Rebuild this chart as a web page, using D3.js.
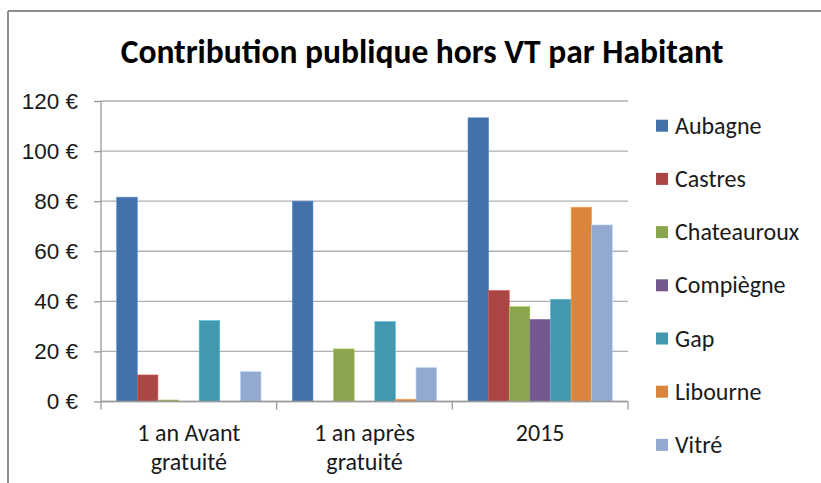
<!DOCTYPE html>
<html>
<head>
<meta charset="utf-8">
<script src="https://cdn.jsdelivr.net/npm/d3@7"></script>
<style>
  body { margin: 0; background: #fff; }
  svg { display: block; font-family: Carlito, Calibri, Lato, "Open Sans", sans-serif; }
</style>
</head>
<body>
<div id="chart"></div>
<script>
// Chart data
const categories = [['1 an Avant', 'gratuité'], ['1 an après', 'gratuité'], ['2015']];
const cities = ['Aubagne', 'Castres', 'Chateauroux', 'Compiègne', 'Gap', 'Libourne', 'Vitré'];
const colors = ['#4471A9', '#AA4644', '#89A54E', '#71588F', '#4198AF', '#DB843D', '#93A9CF'];
const valuesAvant = [81.6, 10.6, 0.6, 0, 32.3, 0, 11.9];
const valuesApres = [80.0, 0, 21.0, 0, 31.9, 0.9, 13.5];
const values2015 = [113.3, 44.3, 37.9, 32.8, 40.8, 77.6, 70.5];
const yTicks = [0, 20, 40, 60, 80, 100, 120];

const width = 821, height = 483;
const plot = { left: 101, right: 628, top: 101, bottom: 401.5 };

const rows = [valuesAvant, valuesApres, values2015];
const catKeys = categories.map(c => c.join(' '));

const svg = d3.select('#chart').append('svg')
  .attr('width', width)
  .attr('height', height);

// Frame (top and left edge of the chart area)
svg.append('line')
  .attr('x1', 8).attr('x2', width).attr('y1', 11).attr('y2', 11)
  .attr('stroke', '#8c8c8c').attr('stroke-width', 2);
svg.append('line')
  .attr('x1', 8).attr('x2', 8).attr('y1', 11).attr('y2', height)
  .attr('stroke', '#8c8c8c').attr('stroke-width', 2);

// Scales
const x0 = d3.scaleBand()
  .domain(catKeys)
  .range([plot.left, plot.right])
  .padding(0);

const x1 = d3.scaleBand()
  .domain(cities)
  .range([0, x0.bandwidth()])
  .paddingInner(0)
  .paddingOuter(0.76);

const y = d3.scaleLinear()
  .domain([0, 120])
  .range([plot.bottom, plot.top]);

// Gridlines
svg.append('g')
  .selectAll('line')
  .data(yTicks)
  .enter()
  .append('line')
  .attr('x1', plot.left).attr('x2', plot.right)
  .attr('y1', d => y(d)).attr('y2', d => y(d))
  .attr('stroke', '#b0b0b0')
  .attr('stroke-width', 1.3);

// Y axis
const yAxis = svg.append('g')
  .attr('transform', `translate(${plot.left},0)`)
  .call(d3.axisLeft(y).tickValues(yTicks).tickSize(7).tickPadding(16).tickFormat(d => d + ' €'));
yAxis.select('.domain').remove();
yAxis.selectAll('.tick line').attr('stroke', '#9a9a9a').attr('stroke-width', 1.3);
yAxis.selectAll('.tick text')
  .attr('font-size', 22.5)
  .attr('fill', '#1a1a1a')
  .attr('font-family', null);
svg.append('line')
  .attr('x1', plot.left).attr('x2', plot.left)
  .attr('y1', plot.top).attr('y2', plot.bottom + 8)
  .attr('stroke', '#9a9a9a').attr('stroke-width', 1.3);

// Bars
const groups = svg.append('g')
  .selectAll('g')
  .data(rows)
  .enter()
  .append('g')
  .attr('transform', (d, i) => `translate(${x0(catKeys[i])},0)`);

groups.selectAll('rect')
  .data(d => d.map((v, j) => ({ city: cities[j], value: v, color: colors[j] })))
  .enter()
  .append('rect')
  .attr('x', d => x1(d.city))
  .attr('width', x1.bandwidth())
  .attr('y', d => y(d.value))
  .attr('height', d => y(0) - y(d.value))
  .attr('fill', d => d.color)
  .attr('stroke', d => d3.color(d.color).brighter(0.6))
  .attr('stroke-width', d => d.value > 0 ? 0.6 : 0);

// X axis baseline and boundary ticks
svg.append('line')
  .attr('x1', plot.left).attr('x2', plot.right)
  .attr('y1', y(0)).attr('y2', y(0))
  .attr('stroke', '#9a9a9a').attr('stroke-width', 1.3);
svg.append('g')
  .selectAll('line')
  .data(catKeys.slice(1).map(k => x0(k)).concat([plot.right]))
  .enter()
  .append('line')
  .attr('x1', d => d).attr('x2', d => d)
  .attr('y1', y(0)).attr('y2', y(0) + 8)
  .attr('stroke', '#9a9a9a').attr('stroke-width', 1.3);

// Category labels
const catLabels = svg.append('g')
  .selectAll('text')
  .data(categories)
  .enter()
  .append('text')
  .attr('x', (d, i) => x0(catKeys[i]) + x0.bandwidth() / 2)
  .attr('y', 441)
  .attr('text-anchor', 'middle')
  .attr('font-size', 24)
  .attr('fill', '#1a1a1a');
catLabels.selectAll('tspan')
  .data(d => d)
  .enter()
  .append('tspan')
  .attr('x', function () { return d3.select(this.parentNode).attr('x'); })
  .attr('dy', (d, i) => i === 0 ? 0 : 29)
  .text(d => d);

// Title
const title = svg.append('text')
  .attr('x', 422)
  .attr('y', 63)
  .attr('text-anchor', 'middle')
  .attr('font-size', 30)
  .attr('font-weight', 'bold')
  .attr('fill', '#000')
  .text('Contribution publique hors VT par Habitant');
const tw = title.node().getComputedTextLength();
title.attr('font-size', 30 * 603 / tw);

// Legend
const legend = svg.append('g')
  .selectAll('g')
  .data(cities)
  .enter()
  .append('g')
  .attr('transform', (d, i) => `translate(656,${125.7 + i * 53.2})`);
legend.append('rect')
  .attr('x', 0).attr('y', -6)
  .attr('width', 12).attr('height', 12)
  .attr('fill', (d, i) => colors[i]);
legend.append('text')
  .attr('x', 19)
  .attr('y', 8)
  .attr('font-size', 24)
  .attr('fill', '#1a1a1a')
  .text(d => d);
</script>
</body>
</html>
